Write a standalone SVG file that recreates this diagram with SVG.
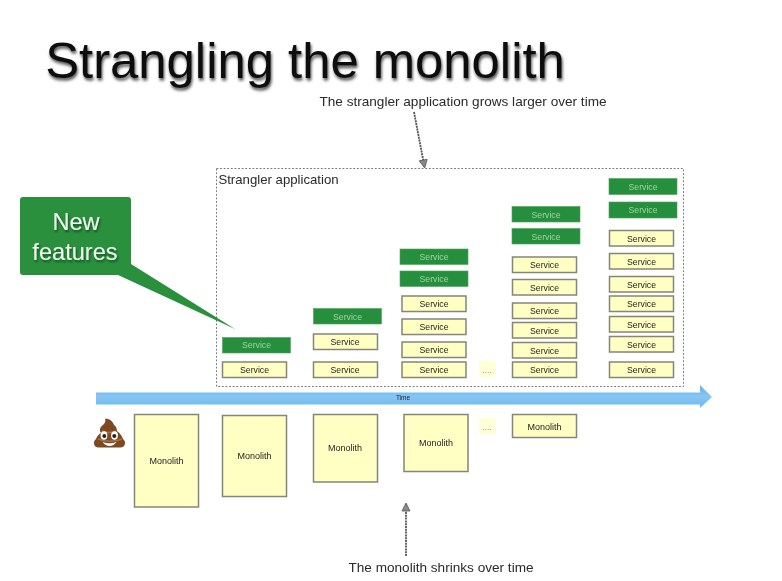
<svg xmlns="http://www.w3.org/2000/svg" width="782" height="581" viewBox="0 0 782 581">
<style>
text{font-family:"Liberation Sans",Arial,sans-serif;text-anchor:middle}
.y{fill:#ffffc4;stroke:#85857a;stroke-width:1.5}
.g{fill:#288f3c;stroke:#4aa25a;stroke-width:.6}
.ys{font-size:8.7px;fill:#1c1c1c}
.ms{font-size:9px;fill:#1c1c1c}
.gs{font-size:8.7px;fill:#9ed4a4}
.lab{font-size:13.6px;fill:#2a2a2a}
.s{filter:url(#soft)}
</style>
<defs>
<filter id="soft" filterUnits="userSpaceOnUse" x="0" y="0" width="782" height="581"><feGaussianBlur stdDeviation="0.35"/></filter>
<filter id="ts" filterUnits="userSpaceOnUse" x="0" y="0" width="782" height="130"><feDropShadow dx="1" dy="2.500" stdDeviation="1.600" flood-color="#000" flood-opacity=".7"/></filter>
<filter id="gts" filterUnits="userSpaceOnUse" x="0" y="180" width="200" height="110"><feDropShadow dx="1" dy="2" stdDeviation="1.200" flood-color="#0b3d17" flood-opacity=".8"/></filter>
<linearGradient id="bar" x1="0" y1="0" x2="0" y2="1"><stop offset="0" stop-color="#63b1ea"/><stop offset=".5" stop-color="#85c6f3"/><stop offset="1" stop-color="#6fb9ef"/></linearGradient>
<marker id="ah" markerWidth="10" markerHeight="10" refX="8" refY="5" orient="auto" markerUnits="userSpaceOnUse"><path d="M1 1L9 5L1 9Z" fill="#8a8a8a" stroke="#555" stroke-width=".8"/></marker>
</defs>
<rect width="782" height="581" fill="#fff"/>
<text id="title" x="305" y="78" font-size="50.800" fill="#111" filter="url(#ts)">Strangling the monolith</text>
<g class="s">
<text class="lab" x="463" y="106">The strangler application grows larger over time</text>
<text class="lab" x="441" y="572">The monolith shrinks over time</text>
</g>
<g id="connectors" class="s">
<path d="M414 112L424.500 167" stroke="#555" stroke-width="1.800" stroke-dasharray="2 .8" fill="none" marker-end="url(#ah)"/>
<path d="M406 556L406 504" stroke="#555" stroke-width="1.800" stroke-dasharray="2 .8" fill="none" marker-end="url(#ah)"/>
</g>
<g id="strangler-frame">
<rect x="216.500" y="168.500" width="467" height="218" fill="none" stroke="#777" stroke-width="1" stroke-dasharray="1.800 1.800"/>
<text class="s" x="278.500" y="184" style="font-size:13.2px" fill="#2a2a2a">Strangler application</text>
</g>
<g id="new-features">
<path class="s" d="M23 197H128a3 3 0 0 1 3 3V264L235 329L118 275H23a3 3 0 0 1 -3 -3V200a3 3 0 0 1 3 -3Z" fill="#2a903d"/>
<g filter="url(#gts)" fill="#eef8ef"><text x="76" y="230" font-size="23.600">New</text><text x="75" y="260" font-size="23.600">features</text></g>
</g>
<g id="time-arrow" class="s">
<path d="M96 392.500H700V385L712 397L700 408V404.500H96Z" fill="url(#bar)"/>
<text x="403" y="400" font-size="6.500" fill="#223">Time</text>
</g>
<g class="s">
<g id="c1-s1"><rect class="y" x="222.500" y="362" width="64" height="15.500"/><text class="ys" x="254.500" y="373">Service</text></g>
<g id="c1-g1"><rect class="g" x="222.500" y="337.500" width="68" height="15.500"/><text class="gs" x="256.500" y="348">Service</text></g>
<g id="c2-s1"><rect class="y" x="313.500" y="362" width="64" height="15.500"/><text class="ys" x="345" y="373">Service</text></g>
<g id="c2-s2"><rect class="y" x="313.500" y="334" width="64" height="15.500"/><text class="ys" x="345" y="345">Service</text></g>
<g id="c2-g1"><rect class="g" x="313.500" y="308.500" width="68" height="15.500"/><text class="gs" x="347.500" y="319.500">Service</text></g>
<g id="c3-s1"><rect class="y" x="402" y="362" width="64" height="15.500"/><text class="ys" x="434" y="373">Service</text></g>
<g id="c3-s2"><rect class="y" x="402" y="342" width="64" height="15.500"/><text class="ys" x="434" y="352.500">Service</text></g>
<g id="c3-s3"><rect class="y" x="402" y="319" width="64" height="15.500"/><text class="ys" x="434" y="329.500">Service</text></g>
<g id="c3-s4"><rect class="y" x="402" y="296" width="64" height="15.500"/><text class="ys" x="434" y="306.500">Service</text></g>
<g id="c3-g1"><rect class="g" x="400" y="271" width="68" height="15.500"/><text class="gs" x="434" y="282">Service</text></g>
<g id="c3-g2"><rect class="g" x="400" y="249" width="68" height="15.500"/><text class="gs" x="434" y="260">Service</text></g>
<g id="gap-top"><rect x="479" y="361" width="16.500" height="16.500" fill="#ffffd8"/><text x="487" y="373" font-size="8.700" fill="#998">....</text></g>
<g id="c4-s1"><rect class="y" x="512.500" y="362" width="64" height="15.500"/><text class="ys" x="544.500" y="373">Service</text></g>
<g id="c4-s2"><rect class="y" x="512.500" y="342.500" width="64" height="15.500"/><text class="ys" x="544.500" y="353.500">Service</text></g>
<g id="c4-s3"><rect class="y" x="512.500" y="322.500" width="64" height="15.500"/><text class="ys" x="544.500" y="333.500">Service</text></g>
<g id="c4-s4"><rect class="y" x="512.500" y="303" width="64" height="15.500"/><text class="ys" x="544.500" y="314">Service</text></g>
<g id="c4-s5"><rect class="y" x="512.500" y="279.500" width="64" height="15.500"/><text class="ys" x="544.500" y="291">Service</text></g>
<g id="c4-s6"><rect class="y" x="512.500" y="257" width="64" height="15.500"/><text class="ys" x="544.500" y="268">Service</text></g>
<g id="c4-g1"><rect class="g" x="512" y="228.500" width="68" height="15.500"/><text class="gs" x="546" y="239.500">Service</text></g>
<g id="c4-g2"><rect class="g" x="512" y="206.500" width="68" height="15.500"/><text class="gs" x="546" y="217.500">Service</text></g>
<g id="c5-s1"><rect class="y" x="609.500" y="362" width="64" height="15.500"/><text class="ys" x="641.500" y="373">Service</text></g>
<g id="c5-s2"><rect class="y" x="609.500" y="336.500" width="64" height="15.500"/><text class="ys" x="641.500" y="347.500">Service</text></g>
<g id="c5-s3"><rect class="y" x="609.500" y="316.500" width="64" height="15.500"/><text class="ys" x="641.500" y="327.500">Service</text></g>
<g id="c5-s4"><rect class="y" x="609.500" y="296" width="64" height="15.500"/><text class="ys" x="641.500" y="307">Service</text></g>
<g id="c5-s5"><rect class="y" x="609.500" y="276.500" width="64" height="15.500"/><text class="ys" x="641.500" y="287.500">Service</text></g>
<g id="c5-s6"><rect class="y" x="609.500" y="253.500" width="64" height="15.500"/><text class="ys" x="641.500" y="264.500">Service</text></g>
<g id="c5-s7"><rect class="y" x="609.500" y="230.500" width="64" height="15.500"/><text class="ys" x="641.500" y="241.500">Service</text></g>
<g id="c5-g1"><rect class="g" x="609" y="202" width="68" height="16"/><text class="gs" x="643" y="213">Service</text></g>
<g id="c5-g2"><rect class="g" x="609" y="178.500" width="68" height="16"/><text class="gs" x="643" y="190">Service</text></g>
<g id="m1"><rect class="y" x="134.500" y="414.500" width="64" height="92.500"/><text class="ms" x="166.500" y="464">Monolith</text></g>
<g id="m2"><rect class="y" x="222.500" y="415.500" width="64" height="81"/><text class="ms" x="254.500" y="459">Monolith</text></g>
<g id="m3"><rect class="y" x="313.500" y="414.500" width="64" height="67.500"/><text class="ms" x="345" y="451">Monolith</text></g>
<g id="m4"><rect class="y" x="404" y="414.500" width="64" height="57"/><text class="ms" x="436" y="446">Monolith</text></g>
<g id="gap-bottom"><rect x="479" y="418" width="16.500" height="16.500" fill="#ffffd8"/><text x="487" y="430" font-size="8.700" fill="#998">....</text></g>
<g id="m5"><rect class="y" x="512.500" y="414.500" width="64" height="23"/><text class="ms" x="544.500" y="429.500">Monolith</text></g>
<g id="poop">
<path d="M105 419C108 418 113 421 114 425C116 426 117 429 117 431C120 433 122 436 123 439C126 441 126 447 121 447.500H98C93 447 93 441 96 439C97 436 99 434 101 433C99 430 100 427 103 425C105 423 106 421 105 419Z" fill="#7c4a22"/>
<path d="M102 431C107 433 112 433 116 431M98 439C105 442 115 442 122 439" stroke="#a9713d" stroke-width="1.400" fill="none"/>
<ellipse cx="104" cy="435.500" rx="3.400" ry="4.200" fill="#fff"/><ellipse cx="114.500" cy="435.500" rx="3.400" ry="4.200" fill="#fff"/>
<circle cx="104.300" cy="436" r="2" fill="#222"/><circle cx="114.300" cy="436" r="2" fill="#222"/>
<path d="M102.500 442Q109.500 444.500 116.500 442Q113.500 446 109.500 446Q105.500 446 102.500 442Z" fill="#fff"/>
</g>
</g>
</svg>
